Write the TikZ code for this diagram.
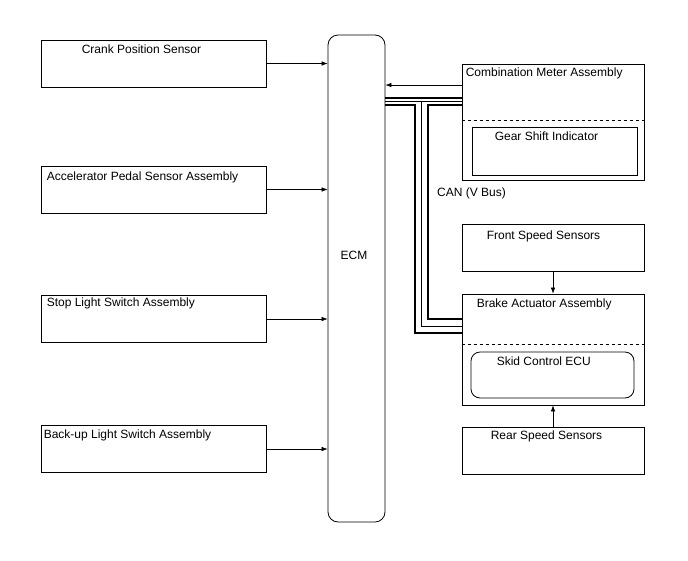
\documentclass[tikz,border=0pt]{standalone}
\usepackage{fontspec}
\setmainfont{Liberation Sans}
\usetikzlibrary{arrows.meta,calc}

\begin{document}
\begin{tikzpicture}[x=1pt,y=-1pt]
	\tikzset{every node/.style={font=\fontsize{12}{14}\selectfont,inner sep=0pt}}
	\tikzset{unitbox/.style={draw,line width=0.8pt,minimum width=182pt,minimum height=47pt}}
	\tikzset{sensorbox/.style={draw,line width=0.8pt,minimum width=225pt,minimum height=47pt}}
	\tikzset{signal/.style={line width=0.6pt,-{Latex[length=6pt,width=4.5pt]}}}
	\tikzset{bushi/.style={line width=2.6pt}}
	\tikzset{buslo/.style={line width=0.9pt}}
	\tikzset{txt/.style={anchor=west}}
	\useasboundingbox (0,0) rectangle (688,560);
	% left side
	\node[sensorbox] (crank) at (153.5,63.5) {};
	\node[sensorbox] (accel) at (153.5,189.5) {};
	\node[sensorbox] (stop) at (153.5,319) {};
	\node[sensorbox] (backup) at (153.5,449) {};
	\node[txt] (crankT) at ($(crank.north west)+(41,10)$) {Crank Position Sensor};
	\node[txt] (accelT) at ($(accel.north west)+(6,12)$) {Accelerator Pedal Sensor Assembly};
	\node[txt] (stopT) at ($(stop.north west)+(6,8)$) {Stop Light Switch Assembly};
	\node[txt] (backupT) at ($(backup.north west)+(3,10)$) {Back-up Light Switch Assembly};
	% ECM
	\node[draw,line width=0.8pt,rounded corners=10pt,minimum width=57pt,minimum height=487pt] (ECM) at (356.5,278.5) {};
	\node (ECMT) at (354,255) {ECM};
	\foreach \s in {crank,accel,stop,backup}
		\draw[signal] (\s.east) -- (ECM.west |- \s.east);
	% right side
	\node[draw,line width=0.8pt,minimum width=182pt,minimum height=116pt] (meter) at (553,122) {};
	\draw[line width=0.6pt,dashed] (meter.west |- 0,120) -- (meter.east |- 0,120);
	\node[draw,line width=0.8pt,minimum width=165pt,minimum height=48pt] (gear) at (554.5,151) {};
	\node[txt] (meterT) at ($(meter.north west)+(4,10)$) {Combination Meter Assembly};
	\node[txt] (gearT) at ($(gear.north west)+(23,10)$) {Gear Shift Indicator};
	\draw[signal] (meter.west |- 0,85) -- (ECM.east |- 0,85);
	\node[unitbox] (front) at (553,247.5) {};
	\node[txt] (frontT) at ($(front.north west)+(25,13)$) {Front Speed Sensors};
	\node[draw,line width=0.8pt,minimum width=182pt,minimum height=111pt] (brake) at (553,349.5) {};
	\draw[line width=0.6pt,dashed] (brake.west |- 0,344) -- (brake.east |- 0,344);
	\node[draw,line width=0.8pt,rounded corners=9pt,minimum width=163pt,minimum height=46pt] (skid) at (552.5,375) {};
	\node[txt] (brakeT) at ($(brake.north west)+(15,11)$) {Brake Actuator Assembly};
	\node[txt] (skidT) at ($(skid.north west)+(26,10)$) {Skid Control ECU};
	\node[unitbox] (rear) at (553,450.5) {};
	\node[txt] (rearT) at ($(rear.north west)+(29,10)$) {Rear Speed Sensors};
	\draw[signal] (front.south) -- (brake.north);
	\draw[signal] (rear.north) -- (brake.south);
	% CAN bus
	\draw[bushi] (ECM.east |- 0,98) -- (meter.west |- 0,98);
	\draw[buslo] (ECM.east |- 0,101.5) -- (meter.west |- 0,101.5);
	\draw[bushi] (ECM.east |- 0,105) -- (415,105) -- (415,333) -- (brake.west |- 0,333);
	\draw[bushi] (meter.west |- 0,105) -- (428,105) -- (428,319) -- (brake.west |- 0,319);
	\draw[buslo] (421.5,101.5) -- (421.5,326) -- (brake.west |- 0,326);
	\node[txt] (canT) at (437,193) {CAN (V Bus)};
\end{tikzpicture}
\end{document}
